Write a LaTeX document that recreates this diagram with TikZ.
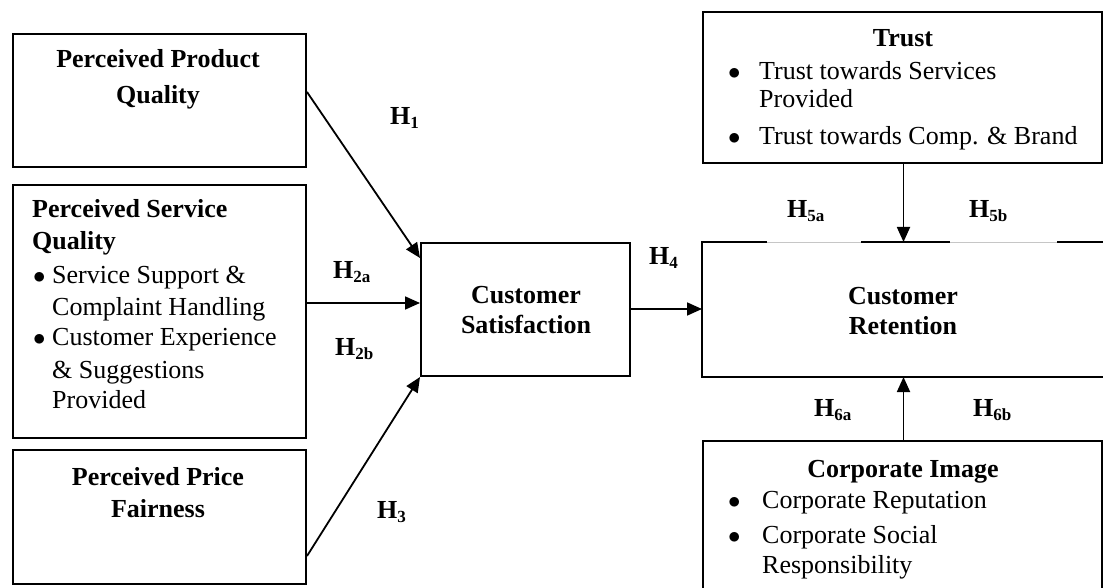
\documentclass[tikz,border=0pt]{standalone}
\usepackage{fontspec}
\setmainfont{Liberation Serif}
\usetikzlibrary{arrows.meta,calc}
% hypothesis label: bold H with a lowered bold index
\newcommand{\hyplab}[1]{\textbf{H}\raisebox{-4pt}{\fontsize{17}{17}\selectfont\textbf{#1}}}
% list bullet
\newcommand{\blt}{$\bullet$}
\begin{document}
\begin{tikzpicture}[x=1pt,y=-1pt,
  box/.style={draw, line width=2pt, anchor=north west, inner sep=0pt},
  edge/.style={line width=2pt},
  link/.style={line width=1.8pt, -{Triangle[length=15pt,width=13pt]}},
  txt/.style={inner sep=0pt, font=\fontsize{26}{30}\selectfont},
  ctr/.style={txt, anchor=base},
  lft/.style={txt, anchor=base west},
  hyp/.style={txt, anchor=base west, font=\fontsize{26}{30}\selectfont\bfseries}
]
\useasboundingbox (0,0) rectangle (1103,588);

% ---------- boxes ----------
\node[box, minimum width=293pt, minimum height=133pt] (ppq) at (12,33) {};
\node[box, minimum width=293pt, minimum height=253pt] (psq) at (12,184) {};
\node[box, minimum width=293pt, minimum height=134pt] (ppf) at (12,449) {};
\node[box, minimum width=209pt, minimum height=133pt] (cs) at (420,242) {};
\node[box, draw=none, minimum width=420pt, minimum height=133pt] (cr) at (702,242) {};
\node[box, minimum width=399pt, minimum height=151pt] (trust) at (702,11) {};
\node[box, minimum width=399pt, minimum height=170pt] (ci) at (702,440) {};

% retention box outline, with its top edge broken under the labels
\draw[gray!45, line width=0.7pt] (cr.north west) -- (cr.north east);
\draw[edge] ($(cr.north west)+(65,0)$) -- (cr.north west) -- (cr.south west) -- (cr.south east);
\draw[edge] ($(cr.north west)+(159,0)$) -- ++(89,0);
\draw[edge] ($(cr.north west)+(355,0)$) -- (cr.north east);

% ---------- texts ----------
\node[ctr] (ppq1) at (158,68) {\textbf{Perceived Product}};
\node[ctr] (ppq2) at (158,104) {\textbf{Quality}};

\node[lft] (psq1) at (32,218) {\textbf{Perceived Service}};
\node[lft] (psq2) at (32,250) {\textbf{Quality}};
\node[lft] (psqb1) at (33,283) {\blt};
\node[lft] (psq3) at (52,283) {Service Support \&};
\node[lft] (psq4) at (52,315) {Complaint Handling};
\node[lft] (psqb2) at (33,345) {\blt};
\node[lft] (psq5) at (52,345) {Customer Experience};
\node[lft] (psq6) at (52,378) {\& Suggestions};
\node[lft] (psq7) at (52,408) {Provided};

\node[ctr] (ppf1) at (158,485) {\textbf{Perceived Price}};
\node[ctr] (ppf2) at (158,517) {\textbf{Fairness}};

\node[ctr] (cs1) at (526,303) {\textbf{Customer}};
\node[ctr] (cs2) at (526,333) {\textbf{Satisfaction}};

\node[ctr] (cr1) at (903,304) {\textbf{Customer}};
\node[ctr] (cr2) at (903,334) {\textbf{Retention}};

\node[ctr] (tr0) at (903,47) {\textbf{Trust}};
\node[lft] (trb1) at (728,80) {\blt};
\node[lft] (tr1) at (759,80) {Trust towards Services};
\node[lft] (tr2) at (759,108) {Provided};
\node[lft] (trb2) at (728,145) {\blt};
\node[lft] (tr3) at (759,145) {Trust towards Comp. \& Brand};

\node[ctr] (ci0) at (903,477) {\textbf{Corporate Image}};
\node[lft] (cib1) at (728,508) {\blt};
\node[lft] (ci1) at (762,508) {Corporate Reputation};
\node[lft] (cib2) at (728,543) {\blt};
\node[lft] (ci2) at (762,543) {Corporate Social};
\node[lft] (ci3) at (762,573) {Responsibility};

% ---------- connectors ----------
\draw[link] ($(ppq.north east)+(0,59)$) -- ($(cs.north west)+(0,16)$);
\coordinate (s2) at ($(psq.north east)+(0,119)$);
\draw[link] (s2) -- (s2 -| cs.west);
\draw[link] ($(ppf.north east)+(0,107)$) -- (cs.south west);
\coordinate (s4) at ($(cs.north east)+(0,67)$);
\draw[link] (s4) -- (s4 -| cr.west);
\coordinate (t5) at ($(trust.south)+(1,0)$);
\draw[link] (t5) -- (t5 |- cr.north);
\coordinate (t6) at ($(ci.north)+(1,0)$);
\draw[link] (t6) -- (t6 |- cr.south);

% ---------- hypothesis labels ----------
\node[hyp] (h1) at (390,125) {\hyplab{1}};
\node[hyp] (h2a) at (333,278) {\hyplab{2a}};
\node[hyp] (h2b) at (335,355) {\hyplab{2b}};
\node[hyp] (h3) at (377,518) {\hyplab{3}};
\node[hyp] (h4) at (649,265) {\hyplab{4}};
\node[hyp] (h5a) at (787,218) {\hyplab{5a}};
\node[hyp] (h5b) at (969,218) {\hyplab{5b}};
\node[hyp] (h6a) at (814,416) {\hyplab{6a}};
\node[hyp] (h6b) at (973,416) {\hyplab{6b}};
\end{tikzpicture}
\end{document}
